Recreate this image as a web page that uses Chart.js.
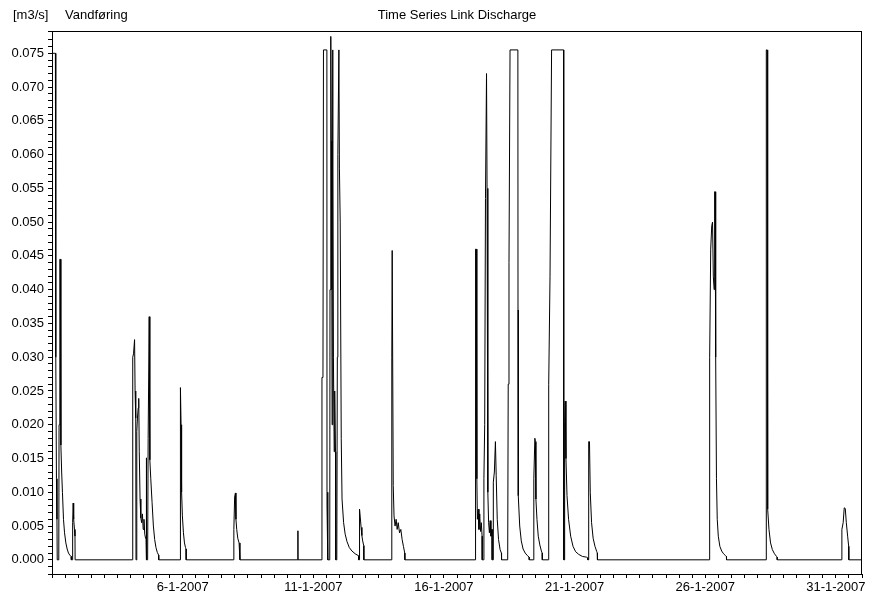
<!DOCTYPE html>
<html>
<head>
<meta charset="utf-8">
<title>Time Series Link Discharge</title>
<script src="https://cdn.jsdelivr.net/npm/chart.js@4.4.1/dist/chart.umd.min.js"></script>
<style>
  html, body { margin: 0; padding: 0; background: #fff; }
  canvas { display: block; }
</style>
</head>
<body>
<canvas id="chart" width="872" height="598"></canvas>
<script>
// Link discharge [m3/s], January 2007.
// Time is given in days after 1-1-2007 00:00; each event starts and ends at zero flow.
const e01_t = [0, 0.13, 0.14, 0.15, 0.17, 0.19, 0.20, 0.26, 0.27, 0.30, 0.32, 0.34, 0.37, 0.40, 0.44, 0.48, 0.53, 0.58, 0.63, 0.68, 0.73, 0.74];
const e01_q = [0.075, 0.075, 0.049, 0.030, 0.012, 0.006, 0, 0, 0.020, 0.0445, 0.0445, 0.017, 0.013, 0.010, 0.006, 0.004, 0.0025, 0.0016, 0.001, 0.0007, 0.0005, 0];

const e02_t = [0.78, 0.79, 0.81, 0.83, 0.86, 0.88, 0.885];
const e02_q = [0, 0.0055, 0.0084, 0.0060, 0.0045, 0.0035, 0];

const e03_t = [3.08, 3.09, 3.12, 3.16, 3.18, 3.20, 3.21, 3.215, 3.24, 3.25, 3.27, 3.30, 3.32, 3.34, 3.37, 3.40, 3.43, 3.46, 3.49, 3.52, 3.55, 3.58, 3.60, 3.605, 3.61, 3.62, 3.625, 3.66, 3.68, 3.72, 3.74, 3.75, 3.78, 3.83, 3.88, 3.93, 3.98, 4.03, 4.08, 4.085];
const e03_q = [0, 0.030, 0.0305, 0.0326, 0.025, 0.021, 0.021, 0, 0, 0.019, 0.021, 0.0225, 0.0239, 0.016, 0.009, 0.0062, 0.0055, 0.0068, 0.0045, 0.006, 0.0038, 0.0032, 0.003, 0.0151, 0.010, 0.004, 0, 0, 0.018, 0.036, 0.024, 0.0148, 0.012, 0.0085, 0.005, 0.003, 0.0018, 0.0011, 0.0007, 0];

const e04_t = [4.90, 4.91, 4.92, 4.94, 4.96, 4.99, 5.03, 5.07, 5.11, 5.13, 5.135];
const e04_q = [0, 0.013, 0.0255, 0.020, 0.010, 0.0065, 0.004, 0.0025, 0.0018, 0.0016, 0];

const e05_t = [6.95, 6.96, 6.99, 7.02, 7.04, 7.07, 7.11, 7.16, 7.19, 7.195];
const e05_q = [0, 0.0045, 0.0093, 0.0099, 0.006, 0.0045, 0.0032, 0.0025, 0.0022, 0];

const e06_t = [9.41, 9.412, 9.415];
const e06_q = [0, 0.0043, 0];

const e07_t = [10.33, 10.332, 10.37, 10.39, 10.52, 10.525, 10.55, 10.56, 10.63, 10.64, 10.67, 10.69, 10.71, 10.72, 10.74, 10.75, 10.77, 10.80, 10.82, 10.85, 10.86, 10.90, 10.92, 10.94, 10.98, 11.00, 11.03, 11.07, 11.10, 11.16, 11.22, 11.29, 11.38, 11.48, 11.60, 11.73, 11.735];
const e07_q = [0, 0.027, 0.027, 0.0755, 0.0755, 0.008, 0.010, 0, 0, 0.040, 0.0775, 0.062, 0.040, 0.020, 0.0755, 0.058, 0.030, 0.016, 0.025, 0.016, 0, 0, 0.030, 0.060, 0.0755, 0.058, 0.050, 0.018, 0.009, 0.0055, 0.0038, 0.0027, 0.0018, 0.0013, 0.0009, 0.0006, 0];

const e08_t = [11.76, 11.77, 11.80, 11.83, 11.86, 11.89, 11.93, 11.935];
const e08_q = [0, 0.0075, 0.0062, 0.0048, 0.0036, 0.0028, 0.0021, 0];

const e09_t = [13.00, 13.005, 13.02, 13.04, 13.06, 13.09, 13.13, 13.17, 13.21, 13.25, 13.30, 13.35, 13.40, 13.45, 13.50, 13.505];
const e09_q = [0, 0.030, 0.0458, 0.0458, 0.011, 0.0065, 0.005, 0.006, 0.0045, 0.0055, 0.004, 0.0045, 0.003, 0.002, 0.001, 0];

const e10_t = [16.19, 16.20, 16.22, 16.24, 16.26, 16.28, 16.31, 16.34, 16.37, 16.40, 16.43, 16.46, 16.465, 16.52, 16.53, 16.56, 16.59, 16.63, 16.65, 16.68, 16.71, 16.74, 16.77, 16.80, 16.84, 16.845, 16.88, 16.89, 16.93, 16.97, 17.00, 17.04, 17.09, 17.15, 17.20, 17.205];
const e10_q = [0, 0.030, 0.046, 0.046, 0.012, 0.006, 0.0075, 0.0045, 0.0068, 0.0042, 0.0055, 0.0035, 0, 0, 0.012, 0.020, 0.0535, 0.072, 0.055, 0.010, 0.0055, 0.004, 0.0058, 0.0035, 0.0045, 0, 0, 0.0115, 0.013, 0.0175, 0.0125, 0.006, 0.003, 0.0015, 0.001, 0];

const e11_t = [17.44, 17.46, 17.49, 17.53, 17.83, 17.835, 17.84, 17.85, 17.90, 17.96, 18.03, 18.11, 18.20, 18.26, 18.265];
const e11_q = [0, 0.026, 0.044, 0.0755, 0.0755, 0.037, 0.012, 0.0095, 0.005, 0.0028, 0.0016, 0.001, 0.0006, 0.0004, 0];

const e12_t = [18.43, 18.44, 18.48, 18.50, 18.52, 18.56, 18.61, 18.67, 18.73, 18.76, 18.765];
const e12_q = [0, 0.012, 0.018, 0.0175, 0.009, 0.006, 0.0035, 0.0022, 0.0013, 0.001, 0];

const e13_t = [19.00, 19.01, 19.06, 19.12, 19.58, 19.585, 19.60, 19.62, 19.64, 19.67, 19.71, 19.77, 19.85, 19.94, 20.04, 20.16, 20.30, 20.45, 20.50, 20.505];
const e13_q = [0, 0.026, 0.042, 0.0755, 0.0755, 0, 0, 0.0205, 0.0235, 0.015, 0.0095, 0.006, 0.0035, 0.002, 0.0012, 0.0008, 0.0005, 0.0004, 0.0003, 0];

const e14_t = [20.52, 20.53, 20.55, 20.57, 20.60, 20.65, 20.71, 20.78, 20.85, 20.87, 20.875];
const e14_q = [0, 0.010, 0.0175, 0.0175, 0.010, 0.0055, 0.0032, 0.002, 0.0012, 0.001, 0];

const e15_t = [25.15, 25.16, 25.18, 25.21, 25.25, 25.28, 25.31, 25.34, 25.36, 25.38, 25.40, 25.43, 25.46, 25.50, 25.56, 25.63, 25.70, 25.78, 25.81, 25.815];
const e15_q = [0, 0.018, 0.030, 0.046, 0.0495, 0.050, 0.042, 0.040, 0.0545, 0.0545, 0.030, 0.012, 0.006, 0.0035, 0.002, 0.0013, 0.0009, 0.0006, 0.0005, 0];

const e16_t = [27.33, 27.335, 27.34, 27.37, 27.38, 27.40, 27.44, 27.50, 27.57, 27.65, 27.73, 27.75, 27.755];
const e16_q = [0, 0.045, 0.0755, 0.0755, 0.012, 0.0075, 0.0045, 0.0025, 0.0015, 0.0009, 0.0005, 0.0004, 0];

const e17_t = [30.22, 30.23, 30.28, 30.32, 30.36, 30.40, 30.45, 30.49, 30.495, 31];
const e17_q = [0, 0.0045, 0.0055, 0.0077, 0.0076, 0.0055, 0.0035, 0.002, 0, 0];

// Date labels on the time axis (days after 1-1-2007) and the axis range.
const dateTickDays = [5, 10, 15, 20, 25, 30];
const dateTickLabels = ['6-1-2007', '11-1-2007', '16-1-2007', '21-1-2007', '26-1-2007', '31-1-2007'];
const dayMin = 0, dayMax = 31;
const flowMin = -0.0021, flowMax = 0.0783;

const eventTimes = [e01_t, e02_t, e03_t, e04_t, e05_t, e06_t, e07_t, e08_t, e09_t, e10_t, e11_t, e12_t, e13_t, e14_t, e15_t, e16_t, e17_t];
const eventFlows = [e01_q, e02_q, e03_q, e04_q, e05_q, e06_q, e07_q, e08_q, e09_q, e10_q, e11_q, e12_q, e13_q, e14_q, e15_q, e16_q, e17_q];

const points = [];
eventTimes.forEach((ts, k) => {
  ts.forEach((t, i) => points.push({ x: t, y: eventFlows[k][i] }));
});

const FONT = '"Liberation Sans", Arial, Helvetica, sans-serif';

// Frame around the plot plus the header texts.
const framePlugin = {
  id: 'frameAndHeader',
  afterDraw(chart) {
    const { ctx, chartArea: a } = chart;
    ctx.save();
    ctx.strokeStyle = '#000';
    ctx.lineWidth = 1;
    ctx.strokeRect(Math.round(a.left) + 0.5, Math.round(a.top) + 0.5,
                   Math.round(a.right - a.left) - 1, Math.round(a.bottom - a.top));
    ctx.fillStyle = '#000';
    ctx.font = '13px ' + FONT;
    ctx.textBaseline = 'middle';
    ctx.textAlign = 'left';
    ctx.fillText('[m3/s]', 13, 15.5);
    ctx.fillText('Vandføring', 65, 15.5);
    ctx.textAlign = 'center';
    ctx.fillText('Time Series Link Discharge', (a.left + a.right) / 2, 15.5);
    ctx.restore();
  }
};

new Chart(document.getElementById('chart'), {
  type: 'line',
  data: {
    datasets: [{
      label: 'Vandføring',
      data: points,
      borderColor: '#000',
      borderWidth: 1,
      pointRadius: 0,
      tension: 0,
      fill: false
    }]
  },
  options: {
    responsive: false,
    animation: false,
    events: [],
    layout: { padding: { top: 31, right: 10, left: 0, bottom: 0 } },
    plugins: { legend: { display: false }, tooltip: { enabled: false }, title: { display: false } },
    scales: {
      x: {
        type: 'linear',
        min: dayMin,
        max: dayMax,
        afterFit(scale) { scale.height = 24; },
        border: { display: true, color: '#000', width: 1 },
        grid: { drawOnChartArea: false, drawTicks: true, tickLength: 4, color: '#000' },
        ticks: {
          stepSize: 0.5,
          autoSkip: false,
          maxRotation: 0,
          minRotation: 0,
          padding: 2,
          color: '#000',
          font: { family: FONT, size: 13 },
          callback(v) {
            const i = dateTickDays.indexOf(v);
            return i >= 0 ? dateTickLabels[i] : '';
          }
        }
      },
      y: {
        type: 'linear',
        min: flowMin,
        max: flowMax,
        afterFit(scale) { scale.width = 52; },
        border: { display: true, color: '#000', width: 1 },
        grid: { drawOnChartArea: false, drawTicks: true, tickLength: 4, color: '#000' },
        ticks: {
          stepSize: 0.001,
          autoSkip: false,
          padding: 4,
          color: '#000',
          font: { family: FONT, size: 13 },
          callback(v) {
            const k = Math.round(v * 1000);
            return (k >= 0 && k % 5 === 0) ? (k / 1000).toFixed(3) : '';
          }
        }
      }
    }
  },
  plugins: [framePlugin]
});
</script>
</body>
</html>
